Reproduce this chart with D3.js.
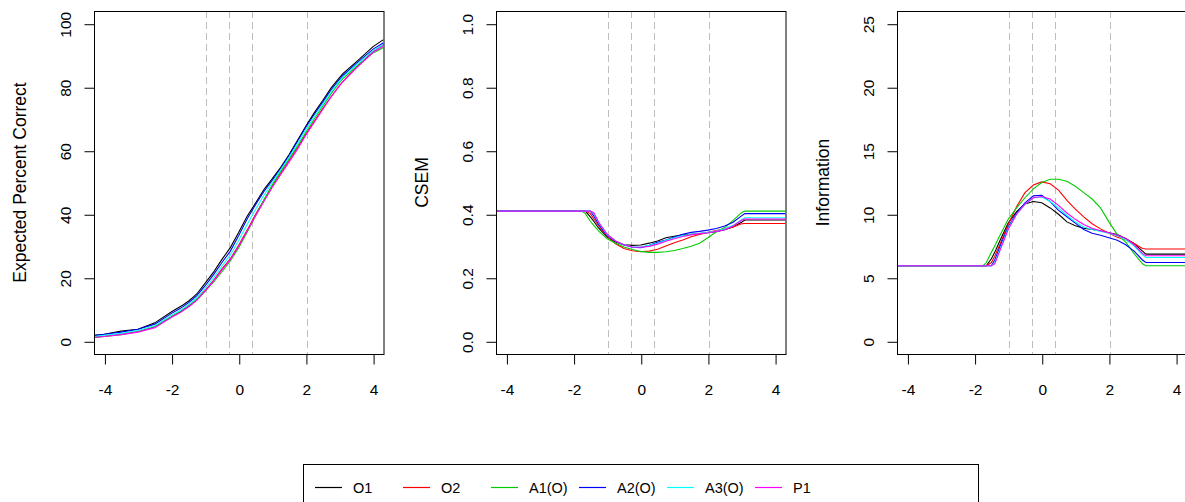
<!DOCTYPE html>
<html><head><meta charset="utf-8">
<script src="https://cdn.jsdelivr.net/npm/d3@7"></script>
<style>
body{margin:0;background:#fff;}
svg{display:block;}
text{font-family:"Liberation Sans",Arial,sans-serif;fill:#000;}
</style>
</head><body>
<svg id="chart" width="1185" height="502"></svg>
<script>
const theta = [-4.31,-4,-3.5,-3,-2.5,-2,-1.75,-1.65,-1.5,-1.4,-1.25,-1,-0.75,-0.5,-0.25,0,0.25,0.5,0.75,1,1.25,1.5,1.75,2,2.25,2.5,2.75,3,3.1,3.5,4,4.31];

const seriesNames = ["O1","O2","A1(O)","A2(O)","A3(O)","P1"];
const seriesColors = ["#000000","#FF0000","#00CD00","#0000FF","#00FFFF","#FF00FF"];
const cutPoints = [-0.97,-0.28,0.40,2.04];

const xTicks = [-4,-2,0,2,4];
const xTickLabels = ["-4","-2","0","2","4"];
const pctTicks = [0,20,40,60,80,100];
const pctTickLabels = ["0","20","40","60","80","100"];
const csemTicks = [0,0.2,0.4,0.6,0.8,1.0];
const csemTickLabels = ["0.0","0.2","0.4","0.6","0.8","1.0"];
const infoTicks = [0,5,10,15,20,25];
const infoTickLabels = ["0","5","10","15","20","25"];

// Expected percent correct
const pctO1 = [1.9,2.2,3.2,3.8,5.8,9.3,10.9,11.5,12.6,13.5,14.9,18.3,21.8,25.8,29.5,34.3,39.4,43.5,47.8,51.2,54.8,58.8,63.3,67.8,72.0,75.8,79.8,83.0,84.3,88.0,92.8,95.0];
const pctO2 = [1.3,1.6,2.3,3.1,4.6,7.8,9.3,10.0,11.1,11.9,13.3,16.0,19.2,22.8,26.0,30.3,35.0,40.0,44.5,49.0,53.0,57.0,61.0,65.3,69.3,73.3,77.0,80.5,81.8,86.3,91.3,93.5];
const pctA1 = [1.2,1.5,2.1,3.0,4.5,7.7,9.2,9.9,11.0,11.8,13.2,15.8,18.6,21.9,25.3,29.5,34.3,39.5,44.5,49.3,53.5,57.5,61.5,65.8,70.0,74.0,78.0,81.5,82.7,86.5,90.8,92.5];
const pctA2 = [1.8,2.2,2.9,3.8,5.4,8.8,10.3,11.0,12.1,13.0,14.4,17.5,21.0,24.8,28.4,33.3,38.5,43.0,47.2,50.7,54.5,58.5,63.0,67.5,71.5,75.3,79.2,82.5,83.7,87.5,92.0,94.0];
const pctA3 = [1.5,1.9,2.5,3.4,4.9,8.2,9.7,10.4,11.5,12.3,13.7,16.7,20.0,23.7,27.2,31.8,36.8,41.5,46.0,50.0,54.0,58.0,62.2,66.7,70.8,74.6,78.5,82.0,83.2,87.0,91.5,93.5];
const pctP1 = [1.2,1.5,2.1,2.9,4.3,7.6,9.0,9.7,10.8,11.6,12.9,15.8,19.0,22.5,25.8,30.0,34.7,39.5,44.0,48.5,52.5,56.5,60.5,65.0,69.0,73.0,77.0,80.5,81.8,86.0,91.0,93.0];

// CSEM
const csemO1 = [0.41,0.41,0.41,0.41,0.41,0.41,0.41,0.41,0.392,0.378,0.356,0.328,0.313,0.304,0.302,0.303,0.309,0.316,0.326,0.331,0.335,0.337,0.339,0.342,0.345,0.351,0.360,0.375,0.382,0.382,0.382,0.382];
const csemO2 = [0.41,0.41,0.41,0.41,0.41,0.41,0.41,0.41,0.402,0.386,0.363,0.330,0.307,0.292,0.285,0.282,0.284,0.290,0.300,0.310,0.319,0.329,0.336,0.343,0.349,0.354,0.360,0.370,0.371,0.371,0.371,0.371];
const csemA1 = [0.41,0.41,0.41,0.41,0.41,0.41,0.41,0.402,0.378,0.365,0.347,0.323,0.309,0.297,0.289,0.283,0.280,0.280,0.282,0.286,0.292,0.299,0.309,0.326,0.345,0.358,0.381,0.405,0.410,0.410,0.410,0.410];
const csemA2 = [0.41,0.41,0.41,0.41,0.41,0.41,0.41,0.41,0.41,0.395,0.368,0.333,0.315,0.303,0.296,0.295,0.302,0.312,0.319,0.328,0.337,0.343,0.346,0.350,0.355,0.363,0.375,0.395,0.402,0.402,0.402,0.402];
const csemA3 = [0.41,0.41,0.41,0.41,0.41,0.41,0.41,0.41,0.41,0.402,0.373,0.335,0.316,0.304,0.297,0.297,0.302,0.309,0.318,0.326,0.333,0.337,0.340,0.343,0.347,0.354,0.365,0.383,0.389,0.389,0.389,0.389];
const csemP1 = [0.41,0.41,0.41,0.41,0.41,0.41,0.41,0.41,0.41,0.405,0.375,0.337,0.316,0.304,0.297,0.296,0.299,0.306,0.315,0.323,0.330,0.335,0.339,0.342,0.346,0.351,0.363,0.381,0.385,0.385,0.385,0.385];

// Information
const infoO1 = [5.95,5.95,5.95,5.95,5.95,5.95,5.95,5.95,6.5,7.0,7.9,9.3,10.2,10.8,11.0,10.9,10.5,10.0,9.4,9.1,8.9,8.8,8.7,8.55,8.4,8.1,7.7,7.1,6.86,6.86,6.86,6.86];
const infoO2 = [5.95,5.95,5.95,5.95,5.95,5.95,5.95,5.95,6.2,6.7,7.6,9.2,10.6,11.7,12.3,12.55,12.4,11.9,11.1,10.4,9.8,9.25,8.85,8.5,8.2,8.0,7.7,7.3,7.26,7.26,7.26,7.26];
const infoA1 = [5.95,5.95,5.95,5.95,5.95,5.95,5.95,6.2,7.0,7.5,8.3,9.6,10.5,11.3,12.0,12.5,12.75,12.75,12.6,12.2,11.7,11.2,10.5,9.4,8.4,7.8,6.9,6.1,5.95,5.95,5.95,5.95];
const infoA2 = [5.95,5.95,5.95,5.95,5.95,5.95,5.95,5.95,5.95,6.4,7.4,9.0,10.1,10.9,11.45,11.5,11.0,10.3,9.8,9.3,8.8,8.5,8.35,8.15,7.95,7.6,7.1,6.4,6.2,6.2,6.2,6.2];
const infoA3 = [5.95,5.95,5.95,5.95,5.95,5.95,5.95,5.95,5.95,6.2,7.2,8.9,10.0,10.8,11.3,11.35,11.0,10.5,9.9,9.4,9.0,8.8,8.65,8.5,8.3,8.0,7.5,6.8,6.6,6.6,6.6,6.6];
const infoP1 = [5.95,5.95,5.95,5.95,5.95,5.95,5.95,5.95,5.95,6.1,7.1,8.8,10.0,10.8,11.3,11.4,11.2,10.7,10.1,9.6,9.2,8.9,8.7,8.55,8.35,8.1,7.6,6.9,6.73,6.73,6.73,6.73];

const svg = d3.select("#chart");
const FONT_TICK = 15.5, FONT_TITLE = 17.5, FONT_LEG = 14.5;
const plotTop = 11, plotBottom = 354, plotW = 289.5;
const panels = [
  {left: 94, title: "Expected Percent Correct", yDomain: [-4, 104], ticks: pctTicks, labels: pctTickLabels, data: [pctO1,pctO2,pctA1,pctA2,pctA3,pctP1]},
  {left: 496, title: "CSEM", yDomain: [-0.04, 1.04], ticks: csemTicks, labels: csemTickLabels, data: [csemO1,csemO2,csemA1,csemA2,csemA3,csemP1]},
  {left: 897, title: "Information", yDomain: [-1, 26], ticks: infoTicks, labels: infoTickLabels, data: [infoO1,infoO2,infoA1,infoA2,infoA3,infoP1]}
];

panels.forEach((p, pi) => {
  const x = d3.scaleLinear().domain([-4.31, 4.31]).range([p.left, p.left + plotW]);
  const y = d3.scaleLinear().domain(p.yDomain).range([plotBottom, plotTop]);
  const g = svg.append("g");
  const clipId = "clip" + pi;
  svg.append("clipPath").attr("id", clipId).append("rect")
    .attr("x", p.left).attr("y", plotTop).attr("width", plotW).attr("height", plotBottom - plotTop);

  // cut lines
  g.append("g").attr("clip-path", `url(#${clipId})`).selectAll("line").data(cutPoints).join("line")
    .attr("x1", d => Math.round(x(d)) + 0.5).attr("x2", d => Math.round(x(d)) + 0.5)
    .attr("y1", plotTop).attr("y2", plotBottom)
    .attr("stroke", "#bebebe").attr("stroke-width", 1).attr("stroke-dasharray", "7,4");

  // series
  const line = d3.line().x((d, i) => x(theta[i])).y(d => y(d));
  g.append("g").attr("clip-path", `url(#${clipId})`).selectAll("path").data(p.data).join("path")
    .attr("d", d => line(d)).attr("fill", "none")
    .attr("stroke", (d, i) => seriesColors[i]).attr("stroke-width", 1.1);

  // box
  g.append("rect").attr("x", p.left + 0.5).attr("y", plotTop + 0.5)
    .attr("width", plotW).attr("height", plotBottom - plotTop)
    .attr("fill", "none").attr("stroke", "#000").attr("stroke-width", 1);

  // x axis
  const xa = g.append("g").attr("transform", `translate(0.5,${plotBottom + 0.5})`)
    .call(d3.axisBottom(x).tickValues(xTicks).tickSizeInner(10).tickSizeOuter(0)
      .tickFormat((d, i) => xTickLabels[i]));
  xa.select(".domain").remove();
  xa.attr("font-family", null).attr("font-size", null);
  xa.selectAll(".tick line").attr("stroke", "#000");
  xa.selectAll(".tick text").attr("y", 40.5).attr("dy", null)
    .style("font-size", FONT_TICK + "px").attr("fill", "#000");

  // y axis
  const ya = g.append("g").attr("transform", `translate(${p.left + 0.5},0.5)`)
    .call(d3.axisLeft(y).tickValues(p.ticks).tickSizeInner(10).tickSizeOuter(0)
      .tickFormat((d, i) => p.labels[i]));
  ya.select(".domain").remove();
  ya.attr("font-family", null).attr("font-size", null);
  ya.selectAll(".tick line").attr("stroke", "#000");
  ya.selectAll(".tick text").attr("x", null).attr("dy", null)
    .attr("text-anchor", "middle").attr("transform", "translate(-24,0) rotate(-90)")
    .style("font-size", FONT_TICK + "px").attr("fill", "#000");

  // title
  g.append("text").attr("transform", `translate(${p.left - 68},${(plotTop + plotBottom) / 2}) rotate(-90)`)
    .attr("text-anchor", "middle").style("font-size", FONT_TITLE + "px").text(p.title);
});

// legend
const leg = svg.append("g");
leg.append("rect").attr("x", 303.5).attr("y", 464.5).attr("width", 675).attr("height", 60)
  .attr("fill", "#fff").attr("stroke", "#000").attr("stroke-width", 1);
const step = 88;
seriesNames.forEach((n, i) => {
  const lx = 315 + i * step;
  leg.append("line").attr("x1", lx).attr("x2", lx + 27).attr("y1", 487.5).attr("y2", 487.5)
    .attr("stroke", seriesColors[i]).attr("stroke-width", 1.2);
  leg.append("text").attr("x", lx + 38).attr("y", 492.5).style("font-size", FONT_LEG + "px").text(n);
});
</script>
</body></html>
